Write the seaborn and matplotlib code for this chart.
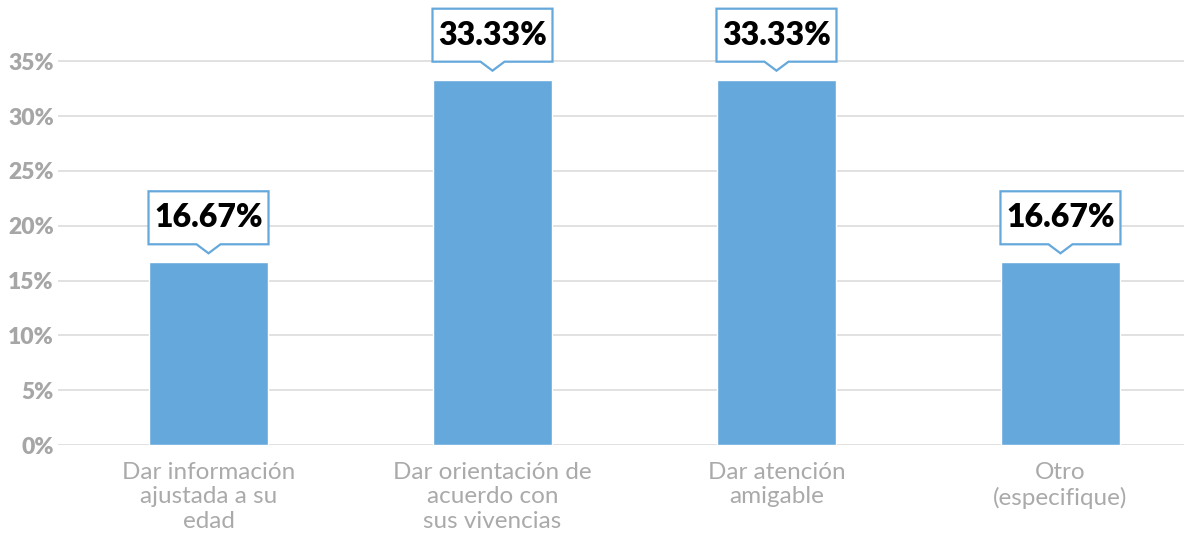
import matplotlib
matplotlib.use("Agg")
import matplotlib.pyplot as plt
import matplotlib.transforms as mtransforms
from matplotlib.patches import Polygon
import seaborn as sns
import pandas as pd

categories = [
    "Dar información\najustada a su\nedad",
    "Dar orientación de\nacuerdo con\nsus vivencias",
    "Dar atención\namigable",
    "Otro\n(especifique)",
]
values = [16.67, 33.33, 33.33, 16.67]
value_labels = ["16.67%", "33.33%", "33.33%", "16.67%"]
y_ticks = [0, 5, 10, 15, 20, 25, 30, 35]
y_tick_labels = ["0%", "5%", "10%", "15%", "20%", "25%", "30%", "35%"]

BAR_BLUE = "#65a8db"
GRID_GREY = "#d9d9d9"
TICK_GREY = "#a6a6a6"

sns.set_theme(style="white")
plt.rcParams["font.family"] = ["Lato", "DejaVu Sans"]

df = pd.DataFrame({"categoria": categories, "valor": values})

fig = plt.figure(figsize=(11.84, 5.40), dpi=100)
ax = fig.add_axes([58 / 1184, 95 / 540, 1 - 58 / 1184, 1 - 95 / 540])

sns.barplot(data=df, x="categoria", y="valor", color=BAR_BLUE,
            saturation=1, width=0.42, ax=ax, zorder=3)

ax.set_xlim(-0.53, 3.435)
ax.set_ylim(0, 40.6)

# horizontal grid lines only up to the top tick
for t in y_ticks:
    ax.axhline(t, color=GRID_GREY, lw=1.1, zorder=1)

ax.set_yticks(y_ticks)
ax.set_yticklabels(y_tick_labels, fontsize=16.5, fontweight="heavy",
                   color=TICK_GREY)
ax.tick_params(axis="y", length=0, pad=3)

ax.set_xticks(range(len(categories)))
ax.set_xticklabels(categories, fontsize=17.5, color="#aaaaaa",
                   fontweight="normal", linespacing=1.22)
ax.tick_params(axis="x", length=0, pad=12)

ax.set_xlabel("")
ax.set_ylabel("")
for s in ax.spines.values():
    s.set_visible(False)

# callout boxes with a small pointer above each bar (vertices in pixels)
outline = [(-60, 18), (-12, 18), (0, 9), (12, 18), (60, 18),
           (60, 71), (-60, 71)]
for i, (v, txt) in enumerate(zip(values, value_labels)):
    trans = fig.dpi_scale_trans + mtransforms.ScaledTranslation(i, v, ax.transData)
    verts = [(px / 100, py / 100) for px, py in outline]
    poly = Polygon(verts, closed=True, transform=trans, facecolor="white",
                   edgecolor=BAR_BLUE, lw=1.6, zorder=5, clip_on=False)
    ax.add_patch(poly)
    ax.text(0, 0.445, txt, transform=trans, ha="center", va="center",
            fontsize=23, fontweight="heavy", color="black", zorder=6)

fig.savefig("out.png", dpi=100)
